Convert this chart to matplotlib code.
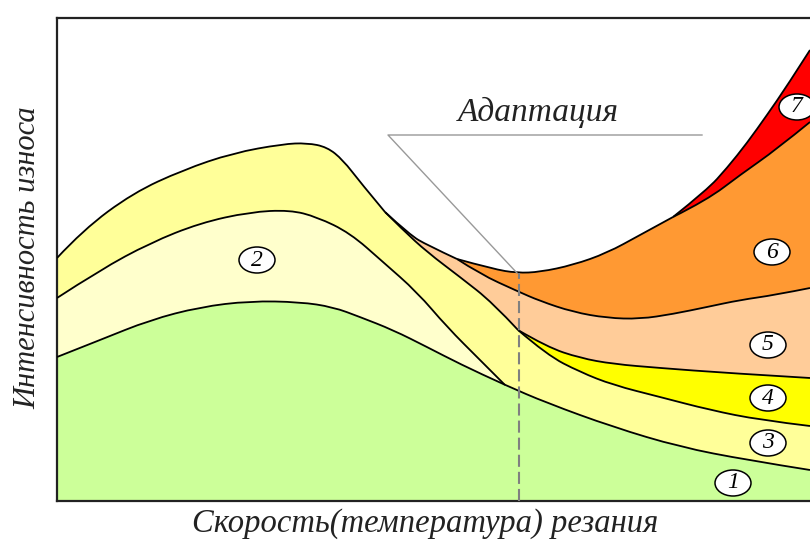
import numpy as np
import matplotlib
matplotlib.use("Agg")
import matplotlib.pyplot as plt
from matplotlib.path import Path
from matplotlib.patches import PathPatch, Ellipse

# boundaries (x = cutting speed, y = wear intensity)
# 1 - top of the green zone
a_x = [0, 43, 93, 143, 193, 243, 276, 303, 336, 370, 403, 448, 490, 556, 623, 690, 753]
a_y = [144, 161, 181, 194, 200, 199, 194, 184, 171, 154, 137, 116, 98, 74, 54, 41, 31]
# 2 - top of the cream zone
b_x = [0, 43, 93, 143, 193, 233, 260, 293, 326, 360, 390, 423, 448]
b_y = [203, 231, 258, 278, 289, 291, 284, 268, 239, 209, 174, 141, 116]
# upper envelope, left part
t_x = [0, 26, 76, 126, 176, 226, 250, 270, 286, 303, 328]
t_y = [243, 271, 308, 331, 348, 357, 358, 354, 341, 319, 289]
# upper envelope, U-shaped right part (split where other curves leave it)
h1_x = [328, 353, 370, 400]
h1_y = [289, 266, 256, 242]
h2_x = [400, 436, 460, 483, 516, 550, 583, 616]
h2_y = [242, 232, 228, 229, 236, 248, 266, 284]
h3_x = [616, 650, 670, 690, 710, 730, 753]
h3_y = [284, 311, 333, 358, 386, 415, 451]
# lower edge of the peach zone (5) before the split
l_x = [328, 346, 370, 403, 436, 461]
l_y = [289, 271, 249, 224, 198, 171]
# zone 4 edges
e_x = [461, 490, 523, 556, 603, 670, 753]
e_y = [171, 154, 143, 137, 133, 128, 123]
d_x = [461, 490, 523, 556, 603, 653, 703, 753]
d_y = [171, 146, 129, 116, 104, 91, 81, 75]
# bottom of orange zone (6)
f_x = [400, 423, 460, 483, 516, 550, 583, 616, 650, 683, 718, 753]
f_y = [242, 227, 210, 200, 189, 183, 182, 187, 194, 201, 206, 213]
# bottom of red zone (7)
g_x = [616, 650, 683, 720, 753]
g_y = [284, 301, 326, 352, 379]

zone_labels = ["1", "2", "3", "4", "5", "6", "7"]
label_x = [676, 200, 711, 711, 711, 715, 740]
label_y = [18, 241, 58, 103, 156, 249, 394]

adapt_x = 462       # adaptation point (dashed line)
adapt_y = 228

colors = {
    "green": "#ccff99", "cream": "#ffffcc", "yel3": "#ffff99",
    "yel4": "#ffff00", "peach": "#ffcc99", "orange": "#ff9933", "red": "#ff0000",
}


def spline(xs, ys):
    # quadratic b-spline path through the read points, endpoints kept
    p = np.column_stack([xs, ys]).astype(float)
    if len(p) == 2:
        return [p[0], p[1]], [Path.MOVETO, Path.LINETO]
    verts = [p[0]]
    for i in range(1, len(p) - 2):
        verts += [p[i], (p[i] + p[i + 1]) / 2]
    verts += [p[-2], p[-1]]
    codes = [Path.MOVETO] + [Path.CURVE3] * (len(verts) - 1)
    return verts, codes


def zone(ax, parts, color):
    # fill under a chain of curves down to the x axis
    verts, codes = [], []
    for k, (xs, ys) in enumerate(parts):
        v, c = spline(xs, ys)
        if k > 0:
            c = [Path.LINETO] + c[1:]
        verts += v
        codes += c
    x0 = parts[0][0][0]
    x1 = parts[-1][0][-1]
    verts += [(x1, 0), (x0, 0), (x0, 0)]
    codes += [Path.LINETO, Path.LINETO, Path.CLOSEPOLY]
    ax.add_patch(PathPatch(Path(verts, codes), fc=color, ec="none", zorder=1))


def edge(ax, xs, ys):
    v, c = spline(xs, ys)
    ax.add_patch(PathPatch(Path(v, c), fc="none", ec="black", lw=1.3, zorder=3))


fig = plt.figure(figsize=(8.1, 5.4), dpi=100)
ax = fig.add_axes([57 / 810, 39 / 540, 753 / 810, 483 / 540])
ax.set_xlim(0, 753)
ax.set_ylim(0, 483)
ax.set_xticks([])
ax.set_yticks([])
ax.spines["right"].set_visible(False)
for s in ["left", "top", "bottom"]:
    ax.spines[s].set_linewidth(1.6)
    ax.spines[s].set_color("#222222")

# paint from the top zone down, each fill covers what is below it
zone(ax, [(h3_x, h3_y)], colors["red"])
zone(ax, [(h2_x, h2_y), (g_x, g_y)], colors["orange"])
zone(ax, [(h1_x, h1_y), (f_x, f_y)], colors["peach"])
zone(ax, [(e_x, e_y)], colors["yel4"])
zone(ax, [(t_x, t_y), (l_x, l_y), (d_x, d_y)], colors["yel3"])
zone(ax, [(b_x, b_y)], colors["cream"])
zone(ax, [(a_x, a_y)], colors["green"])

for xs, ys in [(a_x, a_y), (b_x, b_y), (t_x, t_y), (h1_x, h1_y), (h2_x, h2_y),
               (h3_x, h3_y), (l_x, l_y), (e_x, e_y), (d_x, d_y), (f_x, f_y), (g_x, g_y)]:
    edge(ax, xs, ys)

# adaptation marker
ax.plot([adapt_x, adapt_x], [0, adapt_y], color="#808080", lw=1.5,
        dashes=(5.8, 2.4), zorder=4)
ax.plot([645, 331, adapt_x - 2], [366, 366, adapt_y], color="#999999", lw=1.0, zorder=4)
ax.text(481, 389, "Адаптация", family="Liberation Serif", style="italic",
        fontsize=24, color="#222222", ha="center", va="center", zorder=5)

for lab, lx, ly in zip(zone_labels, label_x, label_y):
    ax.add_patch(Ellipse((lx, ly), 36, 26, fc="white", ec="black", lw=1.1,
                         zorder=6, clip_on=False))
    ax.text(lx, ly, lab, family="Liberation Serif", style="italic", fontsize=17,
            ha="center", va="center", zorder=7, clip_on=False)

fig.text(425 / 810, 1 - 524 / 540, "Скорость(температура) резания",
         family="Liberation Serif", style="italic", fontsize=23.5, color="#222222",
         ha="center", va="center")
fig.text(28 / 810, 1 - 258 / 540, "Интенсивность износа",
         family="Liberation Serif", style="italic", fontsize=22, color="#222222",
         ha="center", va="center", rotation=90)

fig.savefig("out.png", dpi=100)
